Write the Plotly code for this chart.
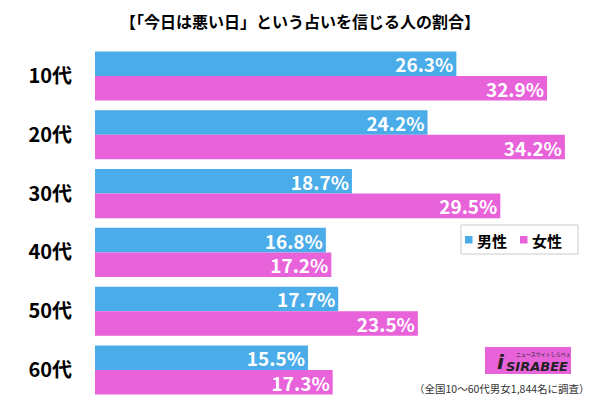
import plotly.graph_objects as go

categories = ["10代", "20代", "30代", "40代", "50代", "60代"]
male = [26.3, 24.2, 18.7, 16.8, 17.7, 15.5]
female = [32.9, 34.2, 29.5, 17.2, 23.5, 17.3]
series_names = ["男性", "女性"]
title_text = "【「今日は悪い日」という占いを信じる人の割合】"
note_text = "（全国10～60代男女1,844名に調査）"

BLUE = "#4AACE8"
PINK = "#E862DA"
FONT = "Noto Sans CJK JP"
OFF = 8  # page body margin
W, H = 584, 387
L, T, B = 95 - OFF, 47 - OFF, 0
PW, PH = W - L, H - T - B

def px(xr):
    return (xr - OFF - L) / PW

def py(yr):
    return (H - B - (yr - OFF)) / PH

fig = go.Figure()
colors = [BLUE, PINK]
for name, vals, col in [(series_names[0], male, BLUE), (series_names[1], female, PINK)]:
    fig.add_trace(go.Bar(
        y=categories, x=vals, orientation="h", name=name,
        marker=dict(color=col, line=dict(width=0)),
        text=[f"<b>{v:.1f}%</b>" for v in vals],
        textposition="inside", insidetextanchor="end", constraintext="none",
        textfont=dict(color="white", size=19, family=FONT),
        cliponaxis=False,
    ))

fig.update_layout(
    width=W, height=H,
    margin=dict(l=L, r=0, t=T, b=B, pad=0),
    barmode="group", bargap=0.165, bargroupgap=0,
    plot_bgcolor="white", paper_bgcolor="white",
    font=dict(family=FONT, color="black"),
    showlegend=False,
    xaxis=dict(range=[0, PW / 13.74], visible=False, fixedrange=True),
    yaxis=dict(range=[5.425, -0.493], showgrid=False, showline=False, automargin=False,
               ticks="", tickfont=dict(size=20, family=FONT, weight="bold"),
               ticklabelstandoff=22, fixedrange=True),
)

# manual legend
fig.add_shape(type="rect", xref="paper", yref="paper",
              x0=px(461), x1=px(578), y0=py(254), y1=py(225),
              fillcolor="white", line=dict(color="#cccccc", width=1), layer="above")
for i, (name, col) in enumerate(zip(series_names, colors)):
    sx = 465 + i * 55
    fig.add_shape(type="rect", xref="paper", yref="paper",
                  x0=px(sx), x1=px(sx + 7.5), y0=py(243.5), y1=py(236),
                  fillcolor=col, line=dict(width=0), layer="above")
    fig.add_annotation(text=f"<b>{name}</b>", xref="paper", yref="paper",
                       x=px(sx + 10), y=py(240), xanchor="left", yanchor="middle",
                       showarrow=False, font=dict(size=15, family=FONT, color="black"))

fig.add_annotation(text=f"<b>{title_text}</b>", xref="paper", yref="paper",
                   x=px(300), y=py(8), xanchor="center", yanchor="top", borderpad=0,
                   showarrow=False, font=dict(size=16, family=FONT))
fig.add_annotation(text=note_text, xref="paper", yref="paper",
                   x=px(592), y=py(388), xanchor="right", yanchor="middle",
                   showarrow=False, font=dict(size=10.5, family=FONT, color="#333333"))

# logo box
fig.add_shape(type="rect", xref="paper", yref="paper",
              x0=px(485), x1=px(571), y0=py(374), y1=py(347),
              fillcolor=PINK, line=dict(width=0), layer="above")
fig.add_annotation(text="<b><i>i</i></b>", xref="paper", yref="paper",
                   x=px(501), y=py(362), xanchor="center", yanchor="middle",
                   showarrow=False, font=dict(size=20, family="DejaVu Sans", color="#222222"))
fig.add_annotation(text="<b><i>SIRABEE</i></b>", xref="paper", yref="paper",
                   x=px(537), y=py(366), xanchor="center", yanchor="middle",
                   showarrow=False, font=dict(size=13, family="DejaVu Sans", color="#222222"))
fig.add_annotation(text="ニュースサイトしらべぇ", xref="paper", yref="paper",
                   x=px(543), y=py(354), xanchor="center", yanchor="middle",
                   showarrow=False, font=dict(size=5, family=FONT, color="#222222"))

fig.write_html("out.html")
